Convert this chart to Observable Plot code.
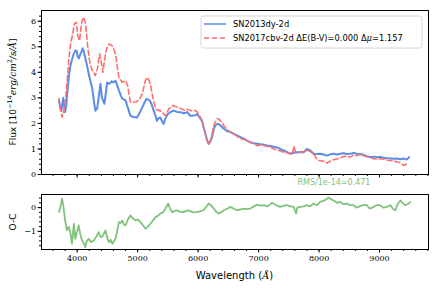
<!DOCTYPE html>
<html><head><meta charset="utf-8">
<script src="https://cdn.jsdelivr.net/npm/d3@7"></script>
<script src="https://cdn.jsdelivr.net/npm/@observablehq/plot@0.6"></script>
<style>
body{margin:0;background:#fff;}
#wrap{position:relative;width:440px;height:291px;}
#wrap svg{display:block;overflow:visible;}
</style></head>
<body><div id="wrap"></div>
<script>
// SN2013dy-2d (blue, solid)
const wlBlue = [3700,3720,3740,3770,3790,3800,3820,3840,3865,3890,3915,3940,3970,3990,4010,4030,4050,4070,4090,4110,4130,4160,4190,4220,4250,4275,4300,4330,4360,4385,4410,4450,4475,4495,4530,4570,4600,4635,4660,4690,4720,4745,4800,4840,4880,4930,4990,5030,5075,5110,5145,5200,5230,5265,5295,5320,5345,5375,5400,5430,5460,5500,5550,5595,5650,5710,5760,5820,5870,5900,5955,5985,6040,6065,6090,6120,6150,6175,6200,6230,6260,6285,6315,6340,6370,6425,6480,6535,6590,6650,6700,6760,6810,6865,6920,6975,7030,7085,7140,7195,7250,7305,7360,7415,7470,7525,7580,7635,7690,7745,7800,7855,7910,7965,8020,8075,8130,8185,8240,8295,8350,8405,8460,8515,8570,8625,8680,8735,8790,8845,8900,8955,9010,9070,9125,9180,9235,9290,9345,9400,9450,9490];
const fluxBlue = [2.9,2.6,2.5,3.0,2.6,2.44,2.7,3.3,3.9,4.27,4.5,4.7,4.85,4.85,4.6,4.55,4.7,4.8,4.94,4.8,4.6,4.3,3.95,3.65,3.36,2.9,2.5,2.58,3.1,3.55,3.0,2.77,3.2,3.6,3.55,3.65,3.6,3.67,3.5,3.29,3.1,2.97,2.9,2.6,2.3,2.25,2.23,2.4,2.62,2.8,2.96,2.9,2.75,2.5,2.3,2.1,2.2,2.23,2.1,1.98,2.2,2.37,2.45,2.5,2.45,2.44,2.4,2.44,2.3,2.3,2.32,2.37,2.18,2.1,1.85,1.6,1.33,1.2,1.28,1.46,1.79,1.92,1.98,1.98,1.92,1.79,1.7,1.66,1.59,1.52,1.46,1.4,1.33,1.26,1.22,1.2,1.18,1.17,1.14,1.12,1.09,1.06,1.0,0.94,0.88,0.81,0.85,0.87,0.88,0.87,1.0,0.94,0.81,0.8,0.81,0.78,0.74,0.79,0.81,0.78,0.81,0.83,0.8,0.81,0.84,0.81,0.8,0.77,0.72,0.68,0.7,0.68,0.69,0.66,0.64,0.63,0.62,0.63,0.6,0.63,0.58,0.68];
// SN2017cbv-2d (red, dashed)
const wlRed = [3700,3720,3750,3770,3790,3810,3835,3860,3890,3920,3955,3985,4010,4040,4070,4105,4140,4170,4195,4220,4245,4270,4300,4335,4370,4395,4425,4450,4485,4525,4570,4605,4635,4650,4670,4690,4745,4800,4835,4860,4880,4935,4980,5020,5075,5100,5130,5160,5185,5210,5250,5295,5335,5375,5420,5460,5490,5515,5580,5630,5680,5740,5790,5830,5875,5920,5955,5985,6040,6065,6090,6120,6150,6175,6200,6220,6245,6270,6315,6340,6370,6425,6480,6535,6590,6645,6700,6755,6810,6865,6915,6975,7030,7085,7140,7195,7250,7305,7360,7415,7470,7525,7560,7590,7610,7635,7690,7745,7800,7855,7910,7950,7990,8030,8070,8100,8130,8160,8185,8240,8295,8350,8405,8460,8515,8570,8625,8680,8735,8790,8845,8900,8955,9010,9070,9125,9180,9235,9290,9345,9400,9440,9490];
const fluxRed = [2.97,2.6,2.24,2.4,2.6,3.0,3.68,4.46,5.1,5.44,5.9,5.96,5.44,5.24,5.9,6.16,5.9,5.1,4.6,4.27,4.1,4.0,3.87,4.14,4.72,4.46,4.0,4.46,4.92,5.11,5.05,4.92,4.7,4.46,4.1,3.8,3.61,3.68,3.48,3.1,2.83,2.83,2.85,2.9,3.16,3.4,3.68,3.8,3.7,3.55,3.03,2.57,2.52,2.5,2.4,2.3,2.45,2.57,2.7,2.66,2.63,2.55,2.5,2.55,2.5,2.5,2.5,2.45,2.24,2.1,1.85,1.6,1.33,1.2,1.3,1.46,1.75,2.0,2.18,2.18,2.1,1.92,1.75,1.66,1.59,1.5,1.4,1.38,1.33,1.26,1.2,1.13,1.16,1.13,1.1,1.07,1.0,0.97,0.92,0.87,0.85,0.81,0.85,1.1,0.86,0.85,0.88,0.9,0.96,0.9,0.81,0.65,0.55,0.54,0.52,0.5,0.44,0.5,0.52,0.58,0.61,0.66,0.7,0.72,0.68,0.76,0.74,0.78,0.74,0.7,0.66,0.62,0.6,0.62,0.6,0.56,0.55,0.52,0.5,0.46,0.35,0.4,0.42];
// O-C residual (green)
const wlRes = [3700,3730,3750,3770,3800,3830,3860,3890,3915,3945,3970,4000,4025,4050,4080,4110,4135,4160,4190,4230,4275,4310,4355,4380,4410,4440,4470,4500,4525,4555,4580,4610,4635,4660,4690,4720,4745,4770,4800,4840,4880,4920,4965,5000,5045,5090,5130,5170,5210,5250,5295,5335,5375,5420,5460,5490,5505,5530,5570,5610,5650,5700,5760,5810,5870,5920,5980,6040,6090,6140,6175,6210,6260,6300,6340,6380,6425,6480,6535,6590,6645,6700,6755,6810,6865,6920,6975,7030,7085,7150,7220,7290,7360,7420,7470,7530,7580,7600,7620,7640,7690,7745,7800,7850,7910,7960,8020,8090,8160,8200,8240,8300,8350,8400,8460,8510,8570,8620,8680,8740,8790,8840,8900,8950,9010,9060,9120,9180,9220,9260,9300,9345,9380,9425,9470,9510];
const resid = [-0.19,0.1,0.38,0.1,-0.54,-0.96,-0.8,-1.1,-1.52,-0.68,-1.31,-1.0,-0.75,-1.1,-1.38,-1.5,-1.66,-1.4,-1.31,-1.45,-1.38,-1.25,-1.03,-1.2,-1.24,-1.1,-0.96,-1.3,-1.45,-1.35,-1.52,-1.4,-1.31,-1.0,-0.61,-0.65,-0.54,-0.7,-0.75,-0.5,-0.33,-0.45,-0.54,-0.5,-0.61,-0.75,-0.89,-0.8,-0.68,-0.55,-0.4,-0.35,-0.25,-0.2,-0.04,0.1,0.17,0.0,-0.19,-0.15,-0.11,-0.18,-0.19,-0.12,-0.15,-0.2,-0.19,-0.15,-0.11,0.05,0.17,0.1,-0.04,-0.18,-0.25,-0.2,-0.11,-0.05,0.03,-0.05,-0.11,-0.08,-0.04,-0.06,-0.04,0.05,0.12,0.08,0.1,0.05,0.2,0.1,0.03,0.08,0.1,0.05,0.03,-0.1,-0.25,0.0,0.03,0.05,0.1,0.05,0.17,0.1,0.24,0.3,0.42,0.35,0.3,0.2,0.24,0.15,0.17,0.1,0.1,0.0,0.06,0.12,0.1,-0.05,0.03,0.1,0.1,0.0,0.03,0.1,-0.05,-0.11,0.15,0.3,0.2,0.1,0.15,0.24];
// tick values
const xMajor = [4000,5000,6000,7000,8000,9000];
const xMinor = d3.range(3600,9801,200);
const yTopMajor = [0,1,2,3,4,5,6];
const yTopMinor = d3.range(0,32).map(i=>i/5);
const yBotMajor = [-1,0];
const yBotMinor = d3.range(-8,3).map(i=>i/5);
const legendLabels = ["SN2013dy-2d","SN2017cbv-2d ΔE(B-V)=0.000 Δ","μ","=1.157"];
const rmsText = "RMS/1e-14=0.471";

const BLUE="#5b8de6", RED="#ff6e6e", GREEN="#80c27b";
const blueData = wlBlue.map((x,i)=>({x,y:fluxBlue[i]}));
const redData = wlRed.map((x,i)=>({x,y:fluxRed[i]}));
const resData = wlRes.map((x,i)=>({x,y:resid[i]}));
const xDomain=[3410,9810];
const tickFont = {fontFamily:"'DejaVu Serif'", fontSize:"8px", background:"white", color:"black", overflow:"visible"};
const blank = ()=>"";
const num = d => String(d).replace("-","−");

const topPlot = Plot.plot({
  width:440, height:185, marginLeft:41, marginRight:12, marginTop:10, marginBottom:11,
  style: tickFont,
  x:{domain:xDomain, axis:null},
  y:{domain:[0,6.42], axis:null},
  marks:[
    Plot.line(blueData,{x:"x",y:"y",stroke:BLUE,strokeWidth:2,clip:true}),
    Plot.line(redData,{x:"x",y:"y",stroke:RED,strokeWidth:1.6,strokeDasharray:"5,3",clip:true}),
    Plot.axisY(yTopMinor,{tickSize:2,tickFormat:blank,label:null}),
    Plot.axisY(yTopMajor,{tickSize:3.5,tickPadding:2,tickFormat:num,label:null}),
    Plot.axisX(xMinor.filter(v=>v>=3410&&v<=9810),{tickSize:2,tickFormat:blank,label:null}),
    Plot.axisX(xMajor,{tickSize:3.5,tickFormat:blank,label:null}),
    Plot.frame({stroke:"black",strokeWidth:1})
  ]
});

const botPlot = Plot.plot({
  width:440, height:106, marginLeft:41, marginRight:12, marginTop:9, marginBottom:42,
  style: tickFont,
  x:{domain:xDomain, axis:null},
  y:{domain:[-1.76,0.55], axis:null},
  marks:[
    Plot.line(resData,{x:"x",y:"y",stroke:GREEN,strokeWidth:1.8,clip:true}),
    Plot.axisY(yBotMinor,{tickSize:2,tickFormat:blank,label:null}),
    Plot.axisY(yBotMajor,{tickSize:3.5,tickPadding:2,tickFormat:num,label:null}),
    Plot.axisX(xMinor.filter(v=>v>=3410&&v<=9810),{tickSize:2,tickFormat:blank,label:null}),
    Plot.axisX(xMajor,{tickSize:3.5,tickPadding:2,tickFormat:num,label:null}),
    Plot.frame({stroke:"black",strokeWidth:1})
  ]
});

const wrap = document.getElementById("wrap");
wrap.appendChild(topPlot);
wrap.appendChild(botPlot);

// annotations on top panel
const ts = d3.select(topPlot);
const yl = ts.append("text").attr("transform","translate(13,92) rotate(-90)")
  .attr("text-anchor","middle").attr("dominant-baseline","middle")
  .style("font-family","'DejaVu Sans'").style("font-size","9px").attr("fill","black");
yl.append("tspan").text("Flux [10");
yl.append("tspan").attr("dy","-3.5").style("font-size","6.5px").text("−14");
yl.append("tspan").attr("dy","3.5").style("font-style","italic").style("font-family","'DejaVu Serif'").text("erg/cm");
yl.append("tspan").attr("dy","-3.5").style("font-size","6.5px").style("font-family","'DejaVu Serif'").text("2");
yl.append("tspan").attr("dy","3.5").style("font-style","italic").style("font-family","'DejaVu Serif'").text("/s/Å");
yl.append("tspan").text("]");

const lg = ts.append("g").style("font-family","'DejaVu Sans'").style("font-size","8.3px").attr("text-anchor","start");
lg.append("rect").attr("x",201).attr("y",16).attr("width",221).attr("height",32).attr("rx",2)
  .attr("fill","white").attr("fill-opacity",0.85).attr("stroke","#d6d6d6");
lg.append("line").attr("x1",204).attr("x2",226).attr("y1",24).attr("y2",24).attr("stroke",BLUE).attr("stroke-width",1.5);
lg.append("line").attr("x1",204).attr("x2",226).attr("y1",38).attr("y2",38).attr("stroke",RED).attr("stroke-width",1.5).attr("stroke-dasharray","5,3");
lg.append("text").attr("x",233).attr("y",24).attr("text-anchor","start").attr("dominant-baseline","middle").text(legendLabels[0]);
const l2 = lg.append("text").attr("x",233).attr("y",38).attr("text-anchor","start").attr("dominant-baseline","middle");
l2.append("tspan").text(legendLabels[1]);
l2.append("tspan").style("font-style","italic").style("font-family","'DejaVu Serif'").text(legendLabels[2]);
l2.append("tspan").text(legendLabels[3]);

ts.append("text").attr("x",334).attr("y",182).attr("text-anchor","middle").attr("dominant-baseline","middle")
  .style("font-family","'DejaVu Sans'").style("font-size","8px").attr("fill",GREEN).text(rmsText);

// bottom panel labels
const bs = d3.select(botPlot);
bs.append("text").attr("transform","translate(13,37) rotate(-90)").attr("text-anchor","middle")
  .attr("dominant-baseline","middle").style("font-family","'DejaVu Sans'").style("font-size","9px").text("O-C");
const xl = bs.append("text").attr("x",234.5).attr("y",91).attr("text-anchor","middle").attr("dominant-baseline","middle")
  .style("font-family","'DejaVu Sans'").style("font-size","10px");
xl.append("tspan").text("Wavelength (");
xl.append("tspan").style("font-style","italic").style("font-family","'DejaVu Serif'").text("Å");
xl.append("tspan").text(")");
</script>
</body></html>
